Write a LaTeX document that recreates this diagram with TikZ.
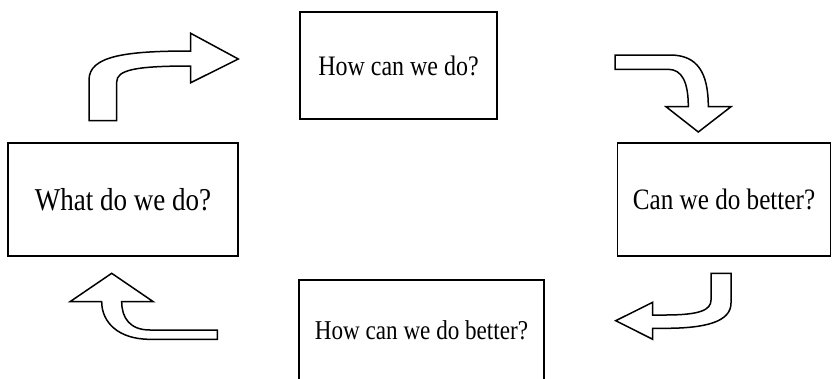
\documentclass[tikz,border=0pt]{standalone}
\usepackage{fontspec}
\usepackage{tikz}
\usetikzlibrary{positioning}
\newfontfamily\boxfont[FakeStretch=0.85]{Liberation Serif}
\tikzset{
  stepbox/.style={rectangle, draw=black, line width=1.5pt, inner sep=0pt,
                  minimum height=113pt, font=\boxfont\fontsize{30}{36}\selectfont},
  textsize/.style={font=\boxfont\fontsize{#1}{#1}\selectfont},
  bentarrow/.style={draw=black, fill=white, line width=1.5pt, line join=miter},
}
\begin{document}
\begin{tikzpicture}[x=1pt, y=-1pt]
    \useasboundingbox (0,0) rectangle (837,378);
    \clip (0,0) rectangle (837,378);
    \node[stepbox, minimum width=197pt, minimum height=107pt, textsize=28.2] (how) at (398.5,65.5) {How can we do?};
    \node[stepbox, minimum width=213pt, textsize=29.6] (better) at (724,199.5) {Can we do better?};
    \node[stepbox, minimum width=245pt, minimum height=100pt, textsize=27.2] (howbetter) at (421.5,330) {How can we do better?};
    \node[stepbox, minimum width=230pt, textsize=31.8] (what) at (123,199.5) {What do we do?};
    % Block arrows
    \draw[bentarrow] (89,120.7) -- (89,80) .. controls (89,56) and (125,51) .. (190.7,51)
        -- (190.7,33.3) -- (238.3,59) -- (190.7,82.7) -- (190.7,66)
        .. controls (135,66) and (116.7,70) .. (116.7,82) -- (116.7,120.7) -- cycle;
    \draw[bentarrow] (615,55) -- (670,55) .. controls (697,55) and (708.3,72) .. (708.3,106.7)
        -- (731,106.7) -- (698.3,132) -- (666,106.7) -- (688.3,106.7)
        .. controls (688.3,82) and (682,69.3) .. (668,69.3) -- (615,69.3) -- cycle;
    \draw[bentarrow] (711,273.3) -- (731,273.3) -- (731,303)
        .. controls (731,322) and (705,328.3) .. (665,328.3) -- (652.7,328.3)
        -- (652.7,339.3) -- (615.7,320.7) -- (652.7,302.3) -- (652.7,315) -- (665,315)
        .. controls (700,315) and (711,310) .. (711,300) -- cycle;
    \draw[bentarrow] (217.3,330) -- (150,330) .. controls (130,330) and (121.7,318) .. (121.7,301.7)
        -- (153.3,301.7) -- (111.7,273.3) -- (70,301.7) -- (101.7,301.7)
        .. controls (101.7,322) and (118,339.3) .. (150,339.3) -- (217.3,339.3) -- cycle;
\end{tikzpicture}
\end{document}
